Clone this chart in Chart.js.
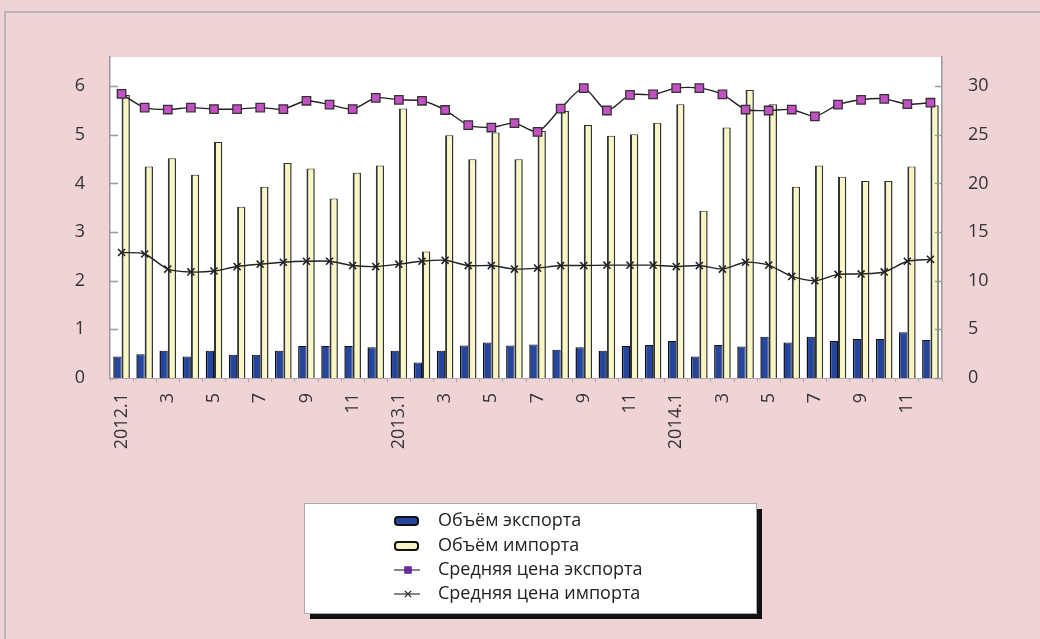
<!DOCTYPE html>
<html>
<head>
<meta charset="utf-8">
<script src="https://cdn.jsdelivr.net/npm/chart.js@4"></script>
<style>
html, body { margin: 0; padding: 0; background: #efd3d5; }
#wrap { width: 1040px; height: 639px; }
</style>
</head>
<body>
<div id="wrap"><canvas id="trade-chart" width="1040" height="639"></canvas></div>
<script>
// months 2012.1 - 2014.12
var months = [
    "2012.1", "2", "3", "4", "5", "6", "7", "8", "9", "10", "11", "12",
    "2013.1", "2", "3", "4", "5", "6", "7", "8", "9", "10", "11", "12",
    "2014.1", "2", "3", "4", "5", "6", "7", "8", "9", "10", "11", "12"
];
// volumes, left axis
var exportVolume = [
    0.44, 0.49, 0.56, 0.44, 0.56, 0.48, 0.48, 0.56, 0.66, 0.66, 0.66, 0.63,
    0.56, 0.32, 0.56, 0.67, 0.73, 0.67, 0.69, 0.58, 0.63, 0.56, 0.66, 0.68,
    0.76, 0.44, 0.68, 0.65, 0.85, 0.73, 0.85, 0.76, 0.80, 0.80, 0.94, 0.78
];
var importVolume = [
    5.82, 4.35, 4.52, 4.18, 4.85, 3.52, 3.93, 4.42, 4.31, 3.69, 4.22, 4.37,
    5.54, 2.60, 4.99, 4.50, 5.05, 4.50, 5.08, 5.49, 5.20, 4.98, 5.01, 5.25,
    5.63, 3.44, 5.15, 5.92, 5.63, 3.93, 4.37, 4.14, 4.05, 4.05, 4.35, 5.61
];
// average prices, right axis
var exportPrice = [
    29.2, 27.8, 27.6, 27.8, 27.65, 27.65, 27.8, 27.65, 28.5, 28.1, 27.65, 28.8,
    28.6, 28.5, 27.55, 26.0, 25.75, 26.2, 25.3, 27.7, 29.8, 27.5, 29.1, 29.15,
    29.8, 29.8, 29.15, 27.6, 27.5, 27.6, 26.9, 28.1, 28.6, 28.7, 28.15, 28.3
];
var importPrice = [
    12.9, 12.75, 11.2, 10.9, 11.0, 11.46, 11.7, 11.9, 12.0, 12.0, 11.56, 11.46,
    11.7, 12.0, 12.1, 11.56, 11.56, 11.2, 11.3, 11.56, 11.56, 11.6, 11.6, 11.6,
    11.46, 11.56, 11.2, 11.9, 11.6, 10.44, 10.0, 10.65, 10.7, 10.9, 12.0, 12.2
];

var fontFamily = "'Open Sans', 'DejaVu Sans', sans-serif";
var tickFont = { family: fontFamily, size: 18 };
var textColor = "#333";

// pink page, frame lines and white plot area
var backdrop = {
    id: "backdrop",
    beforeDraw: function (chart) {
        var ctx = chart.ctx, a = chart.chartArea;
        ctx.save();
        ctx.fillStyle = "#efd3d5";
        ctx.fillRect(0, 0, chart.width, chart.height);
        ctx.strokeStyle = "#bcb3b5";
        ctx.lineWidth = 2;
        ctx.beginPath();
        ctx.moveTo(5, chart.height);
        ctx.lineTo(5, 12);
        ctx.lineTo(chart.width, 12);
        ctx.stroke();
        ctx.fillStyle = "#fff";
        ctx.fillRect(a.left, a.top, a.right - a.left, a.bottom - a.top);
        ctx.restore();
    }
};

// short tick marks pointing into the plot on both value axes
var innerTicks = {
    id: "innerTicks",
    afterDatasetsDraw: function (chart) {
        var ctx = chart.ctx, a = chart.chartArea;
        ctx.save();
        ctx.strokeStyle = "#999";
        ctx.lineWidth = 1.5;
        ["yVol", "yPrice"].forEach(function (id) {
            var s = chart.scales[id];
            var x0 = id === "yVol" ? a.left : a.right;
            var dx = id === "yVol" ? 8 : -7;
            s.ticks.forEach(function (t) {
                var y = Math.round(s.getPixelForValue(t.value)) + 0.5;
                ctx.beginPath();
                ctx.moveTo(x0, y);
                ctx.lineTo(x0 + dx, y);
                ctx.stroke();
            });
        });
        ctx.restore();
    }
};

// boxed legend under the chart, one entry per row
var boxLegend = {
    id: "boxLegend",
    afterDraw: function (chart) {
        var ctx = chart.ctx;
        var x = 304, y = 503, w = 452, h = 110;
        ctx.save();
        ctx.fillStyle = "#111";
        ctx.fillRect(x + 6, y + 6, w, h);
        ctx.fillStyle = "#fff";
        ctx.fillRect(x, y, w, h);
        ctx.strokeStyle = "#aaa";
        ctx.lineWidth = 1;
        ctx.strokeRect(x + 0.5, y + 0.5, w, h);
        var rows = [521, 546, 570, 594];
        chart.data.datasets.forEach(function (ds, i) {
            var cy = rows[i];
            if (ds.type === "bar") {
                ctx.fillStyle = ds.backgroundColor;
                ctx.strokeStyle = "#111";
                ctx.lineWidth = 2;
                ctx.beginPath();
                ctx.roundRect(395, cy - 4, 23, 8, 3);
                ctx.fill();
                ctx.stroke();
            } else {
                ctx.strokeStyle = "#333";
                ctx.lineWidth = 1.2;
                ctx.beginPath();
                ctx.moveTo(394, cy);
                ctx.lineTo(420, cy);
                ctx.stroke();
                var isRect = ds.pointStyle === "rect";
                ctx.fillStyle = isRect ? "#6a2aa0" : "#333";
                ctx.strokeStyle = isRect ? "#6a2aa0" : "#222";
                Chart.helpers.drawPoint(ctx, { pointStyle: ds.pointStyle, radius: isRect ? 4.5 : 4.5, borderWidth: 1.2 }, 408, cy);
            }
            ctx.fillStyle = "#222";
            ctx.font = "18px " + fontFamily;
            ctx.textBaseline = "middle";
            ctx.fillText(ds.label, 438, cy);
        });
        ctx.restore();
    }
};

var keepEvery = function (step) {
    return function (scale) {
        scale.ticks = scale.ticks.filter(function (t) { return Math.abs(t.value / step - Math.round(t.value / step)) < 1e-6; });
    };
};

var chart;
var drawGraph = function () {
    const ctx = document.getElementById("trade-chart");
    chart = new Chart(ctx, {
        data: {
            labels: months,
            datasets: [{
                type: "bar",
                label: "Объём экспорта",
                data: exportVolume,
                yAxisID: "yVol",
                backgroundColor: "#2446a0",
                borderColor: "#111",
                borderWidth: { left: 1.5, right: 1, top: 1, bottom: 0 },
                borderSkipped: "bottom",
                categoryPercentage: 0.72,
                barPercentage: 1.0,
                order: 2
            }, {
                type: "bar",
                label: "Объём импорта",
                data: importVolume,
                yAxisID: "yVol",
                backgroundColor: "#f9f6c6",
                borderColor: "#333",
                borderWidth: { left: 2, right: 1.5, top: 1, bottom: 0 },
                borderSkipped: "bottom",
                categoryPercentage: 0.72,
                barPercentage: 1.0,
                order: 2
            }, {
                type: "line",
                label: "Средняя цена экспорта",
                data: exportPrice,
                yAxisID: "yPrice",
                borderColor: "#222",
                borderWidth: 1.4,
                tension: 0.25,
                pointStyle: "rect",
                pointRadius: 6,
                pointBackgroundColor: "#c550c6",
                pointBorderColor: "#333",
                pointBorderWidth: 1.3,
                order: 1
            }, {
                type: "line",
                label: "Средняя цена импорта",
                data: importPrice,
                yAxisID: "yPrice",
                borderColor: "#222",
                borderWidth: 1.4,
                tension: 0.25,
                pointStyle: "crossRot",
                pointRadius: 5,
                pointBorderColor: "#222",
                pointBorderWidth: 1.6,
                order: 1
            }]
        },
        options: {
            responsive: false,
            animation: false,
            layout: { padding: { top: 57, left: 0, right: 0, bottom: 0 } },
            plugins: {
                legend: { display: false },
                tooltip: { enabled: false }
            },
            scales: {
                x: {
                    offset: true,
                    grid: { display: true, drawOnChartArea: false, offset: true, tickLength: 4, color: "#aaa" },
                    border: { color: "#aaa" },
                    ticks: {
                        autoSkip: false,
                        minRotation: 90,
                        maxRotation: 90,
                        padding: 11,
                        font: tickFont,
                        color: textColor,
                        callback: function (v, i) { return i % 2 === 0 ? months[i] : ""; }
                    },
                    afterFit: function (s) { s.height = 261; }
                },
                yVol: {
                    position: "left",
                    min: 0,
                    max: 6.6,
                    grid: { display: false },
                    border: { color: "#999", width: 1.5 },
                    ticks: { stepSize: 1, padding: 17, font: tickFont, color: textColor },
                    afterBuildTicks: keepEvery(1),
                    afterFit: function (s) { s.width = 110; }
                },
                yPrice: {
                    position: "right",
                    min: 0,
                    max: 33,
                    grid: { display: false },
                    border: { color: "#999", width: 1.5 },
                    ticks: { stepSize: 5, padding: 18, font: tickFont, color: textColor },
                    afterBuildTicks: keepEvery(5),
                    afterFit: function (s) { s.width = 98; }
                }
            }
        },
        plugins: [backdrop, innerTicks, boxLegend]
    });
};

window.addEventListener("DOMContentLoaded", drawGraph);
</script>
</body>
</html>
